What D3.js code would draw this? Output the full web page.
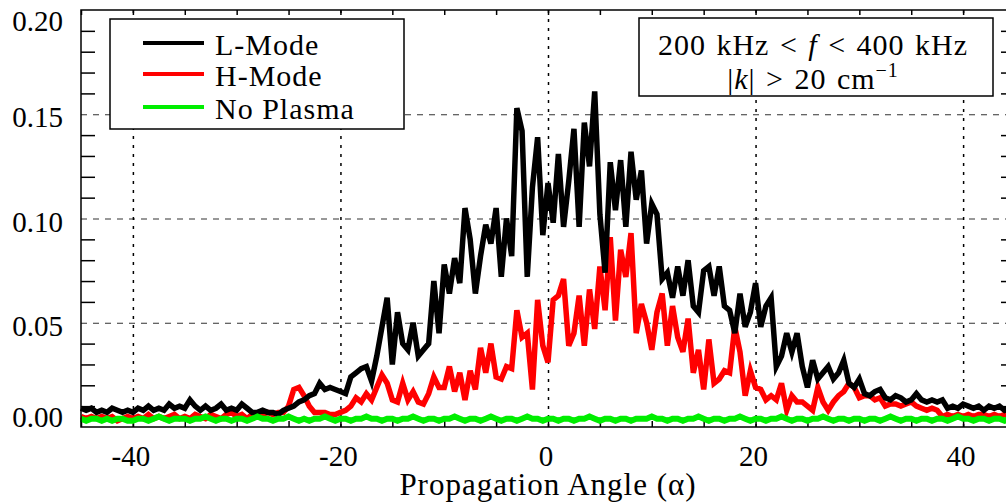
<!DOCTYPE html>
<html>
<head>
<meta charset="utf-8">
<script src="https://cdn.jsdelivr.net/npm/d3@7"></script>
<style>
body{margin:0;background:#fff}
svg{display:block}
text{font-family:"Liberation Serif","Times New Roman",serif;fill:#000}
</style>
</head>
<body>
<svg id="chart" width="1006" height="503"></svg>
<script>
// propagation angle grid, degrees (one sample every 0.5 deg)
var angles = d3.range(-45, 45.001, 0.5);

var lMode = [
  0.009,0.008,0.009,0.007,0.008,0.007,0.009,0.008,0.007,0.008,
  0.007,0.009,0.008,0.010,0.008,0.009,0.008,0.011,0.009,0.010,
  0.009,0.013,0.010,0.008,0.010,0.008,0.009,0.011,0.008,0.009,
  0.008,0.011,0.009,0.007,0.007,0.008,0.007,0.007,0.006,0.008,
  0.009,0.010,0.012,0.013,0.015,0.016,0.021,0.018,0.019,0.018,
  0.017,0.016,0.024,0.026,0.028,0.029,0.022,0.034,0.048,0.062,
  0.030,0.055,0.040,0.037,0.050,0.034,0.037,0.040,0.070,0.045,
  0.078,0.064,0.081,0.069,0.105,0.090,0.064,0.082,0.097,0.088,
  0.105,0.072,0.100,0.082,0.153,0.142,0.072,0.115,0.139,0.092,
  0.117,0.098,0.131,0.096,0.118,0.143,0.096,0.146,0.125,0.161,
  0.102,0.074,0.127,0.104,0.128,0.096,0.132,0.109,0.123,0.088,
  0.107,0.102,0.071,0.074,0.062,0.077,0.063,0.080,0.058,0.055,
  0.075,0.077,0.063,0.077,0.058,0.056,0.045,0.064,0.048,0.055,
  0.069,0.048,0.058,0.062,0.029,0.034,0.045,0.036,0.045,0.029,
  0.019,0.032,0.023,0.026,0.029,0.023,0.026,0.032,0.021,0.019,
  0.023,0.016,0.015,0.017,0.018,0.014,0.013,0.015,0.014,0.012,
  0.013,0.016,0.013,0.012,0.013,0.012,0.013,0.009,0.010,0.009,
  0.011,0.010,0.009,0.010,0.008,0.010,0.009,0.010,0.008,0.009,
  0.008
];

var hMode = [
  0.005,0.004,0.005,0.004,0.005,0.004,0.005,0.003,0.004,0.005,
  0.004,0.005,0.004,0.006,0.004,0.005,0.004,0.005,0.006,0.004,
  0.005,0.004,0.006,0.005,0.004,0.006,0.005,0.004,0.006,0.007,
  0.005,0.006,0.004,0.006,0.005,0.006,0.007,0.006,0.007,0.007,
  0.010,0.018,0.019,0.015,0.010,0.007,0.007,0.007,0.006,0.006,
  0.007,0.008,0.010,0.014,0.012,0.016,0.013,0.019,0.025,0.021,
  0.013,0.012,0.021,0.013,0.017,0.012,0.011,0.016,0.024,0.019,
  0.019,0.029,0.017,0.026,0.013,0.027,0.018,0.038,0.026,0.040,
  0.024,0.023,0.029,0.028,0.056,0.043,0.045,0.018,0.061,0.039,
  0.031,0.061,0.063,0.071,0.039,0.045,0.063,0.039,0.066,0.047,
  0.077,0.056,0.091,0.051,0.085,0.072,0.093,0.045,0.059,0.050,
  0.037,0.055,0.064,0.039,0.058,0.043,0.036,0.052,0.026,0.037,
  0.018,0.042,0.021,0.023,0.027,0.026,0.048,0.036,0.015,0.027,
  0.019,0.018,0.013,0.015,0.013,0.021,0.008,0.015,0.012,0.012,
  0.010,0.008,0.019,0.012,0.008,0.012,0.015,0.017,0.021,0.019,
  0.014,0.015,0.015,0.013,0.014,0.010,0.011,0.011,0.010,0.011,
  0.012,0.010,0.009,0.008,0.009,0.008,0.005,0.006,0.005,0.006,
  0.005,0.006,0.005,0.006,0.006,0.005,0.006,0.005,0.006,0.005,
  0.006
];

var noPlasma = [
  0.004,0.003,0.004,0.004,0.003,0.004,0.003,0.004,0.004,0.003,
  0.003,0.004,0.004,0.003,0.004,0.005,0.004,0.003,0.004,0.004,
  0.004,0.003,0.004,0.004,0.005,0.004,0.003,0.004,0.004,0.003,
  0.004,0.004,0.003,0.004,0.005,0.004,0.004,0.003,0.004,0.004,
  0.005,0.004,0.003,0.004,0.003,0.004,0.004,0.005,0.004,0.003,
  0.004,0.004,0.003,0.004,0.004,0.005,0.004,0.004,0.003,0.004,
  0.004,0.003,0.004,0.004,0.005,0.004,0.003,0.004,0.004,0.003,
  0.004,0.004,0.005,0.004,0.003,0.004,0.004,0.003,0.004,0.005,
  0.004,0.003,0.004,0.004,0.003,0.004,0.005,0.004,0.004,0.003,
  0.004,0.004,0.003,0.004,0.004,0.003,0.004,0.004,0.005,0.004,
  0.003,0.004,0.004,0.003,0.004,0.004,0.003,0.004,0.004,0.004,
  0.005,0.004,0.004,0.003,0.004,0.004,0.003,0.004,0.004,0.005,
  0.004,0.003,0.004,0.004,0.003,0.004,0.004,0.005,0.004,0.003,
  0.004,0.004,0.003,0.004,0.004,0.005,0.004,0.003,0.004,0.004,
  0.003,0.004,0.004,0.005,0.004,0.003,0.004,0.004,0.003,0.004,
  0.004,0.003,0.004,0.004,0.003,0.004,0.005,0.004,0.003,0.004,
  0.004,0.003,0.004,0.004,0.003,0.004,0.004,0.003,0.004,0.005,
  0.004,0.004,0.003,0.004,0.004,0.003,0.004,0.004,0.003,0.004,
  0.004
];

var seriesNames = ["L-Mode", "H-Mode", "No Plasma"];
var seriesColors = ["#000000", "#ff0000", "#00ee00"];
var seriesWidths = [5.5, 5.5, 6];
var xTickLabels = [-40, -20, 0, 20, 40];
var yTickLabels = [0, 0.05, 0.10, 0.15, 0.20];

var svg = d3.select("#chart");
var pLeft = 81, pRight = 1015, pTop = 10, pBottom = 427;

var x = d3.scaleLinear().domain([-45, 45]).range([pLeft, pRight]);
var y = d3.scaleLinear().domain([0, 0.2]).range([pBottom, pTop]);

// grid lines
var gridY = svg.append("g").attr("transform", "translate(" + pLeft + ",0)")
  .call(d3.axisLeft(y).tickValues([0.05, 0.10, 0.15]).tickSize(-(pRight - pLeft)).tickFormat(""));
gridY.select(".domain").remove();
gridY.selectAll("line").attr("stroke", "#333").attr("stroke-width", 1.2).attr("stroke-dasharray", "6,6");

var gridX = svg.append("g").attr("transform", "translate(0," + pBottom + ")")
  .call(d3.axisBottom(x).tickValues(xTickLabels).tickSize(-(pBottom - pTop)).tickFormat(""));
gridX.select(".domain").remove();
gridX.selectAll("line").attr("stroke", "#000").attr("stroke-width", 1.5).attr("stroke-dasharray", "3,6");

// minor ticks on the y axes (every 0.01)
var minorY = d3.range(1, 20).map(function(i){ return i / 100; }).filter(function(v, i){ return (i + 1) % 5 != 0; });
var tl = svg.append("g").attr("transform", "translate(" + pLeft + ",0)")
  .call(d3.axisRight(y).tickValues(minorY).tickSize(14).tickFormat(""));
var tr = svg.append("g").attr("transform", "translate(" + pRight + ",0)")
  .call(d3.axisLeft(y).tickValues(minorY).tickSize(14).tickFormat(""));
// x ticks every 5 deg
var xt = d3.range(-45, 46, 5);
var tb = svg.append("g").attr("transform", "translate(0," + pBottom + ")")
  .call(d3.axisTop(x).tickValues(xt).tickSize(6).tickFormat(""));
var tt = svg.append("g").attr("transform", "translate(0," + pTop + ")")
  .call(d3.axisBottom(x).tickValues(xt).tickSize(5).tickFormat(""));
[tl, tr, tb, tt].forEach(function(g){
  g.select(".domain").remove();
  g.selectAll("line").attr("stroke", "#000").attr("stroke-width", 1.5);
});

// data lines
var line = d3.line()
  .x(function(d, i){ return x(angles[i]); })
  .y(function(d){ return y(d); });

var order = [1, 0, 2];
var allSeries = [lMode, hMode, noPlasma];
order.forEach(function(k){
  svg.append("path")
    .datum(allSeries[k])
    .attr("fill", "none")
    .attr("stroke", seriesColors[k])
    .attr("stroke-width", seriesWidths[k])
    .attr("stroke-linejoin", "miter")
    .attr("d", line);
});

// frame
svg.append("rect")
  .attr("x", pLeft).attr("y", pTop)
  .attr("width", pRight - pLeft).attr("height", pBottom - pTop)
  .attr("fill", "none").attr("stroke", "#000").attr("stroke-width", 1.5);

// tick labels
svg.append("g").selectAll("text")
  .data(yTickLabels).enter().append("text")
  .attr("x", 63)
  .attr("y", function(d){ return Math.max(21, Math.min(417, y(d) + 3)) + 10; })
  .attr("text-anchor", "end")
  .style("font-size", "29px")
  .text(function(d){ return d3.format(".2f")(d); });

svg.append("g").selectAll("text")
  .data(xTickLabels).enter().append("text")
  .attr("x", function(d){ return x(d) - 2; })
  .attr("y", 466)
  .attr("text-anchor", "middle")
  .style("font-size", "29px")
  .text(function(d){ return d; });

svg.append("text")
  .attr("x", 548).attr("y", 495)
  .attr("text-anchor", "middle")
  .style("font-size", "31px").style("letter-spacing", "1px")
  .text("Propagation Angle (α)");

// legend
var lg = svg.append("g");
lg.append("rect").attr("x", 110).attr("y", 19).attr("width", 294).attr("height", 110)
  .attr("fill", "#fff").attr("stroke", "#000").attr("stroke-width", 1.5);
var legY = [43, 74, 107];
seriesNames.forEach(function(name, i){
  lg.append("line").attr("x1", 143).attr("x2", 204).attr("y1", legY[i]).attr("y2", legY[i])
    .attr("stroke", seriesColors[i]).attr("stroke-width", 4);
  lg.append("text").attr("x", 215).attr("y", legY[i] + 12)
    .style("font-size", "30px").style("letter-spacing", "1px")
    .text(name);
});

// annotation box
var ab = svg.append("g");
ab.append("rect").attr("x", 639).attr("y", 18).attr("width", 354).attr("height", 78)
  .attr("fill", "#fff").attr("stroke", "#000").attr("stroke-width", 1.5);
var t1 = ab.append("text").attr("x", 813).attr("y", 55).attr("text-anchor", "middle")
  .style("font-size", "30px").style("letter-spacing", "1px").style("word-spacing", "2px");
t1.append("tspan").text("200 kHz < ");
t1.append("tspan").style("font-style", "italic").text("f");
t1.append("tspan").text(" < 400 kHz");
var t2 = ab.append("text").attr("x", 813).attr("y", 89).attr("text-anchor", "middle")
  .style("font-size", "30px").style("letter-spacing", "1px").style("word-spacing", "2px");
t2.append("tspan").text("|");
t2.append("tspan").style("font-style", "italic").text("k");
t2.append("tspan").text("| > 20 cm");
t2.append("tspan").attr("dy", -12).style("font-size", "20px").text("−1");
</script>
</body>
</html>
